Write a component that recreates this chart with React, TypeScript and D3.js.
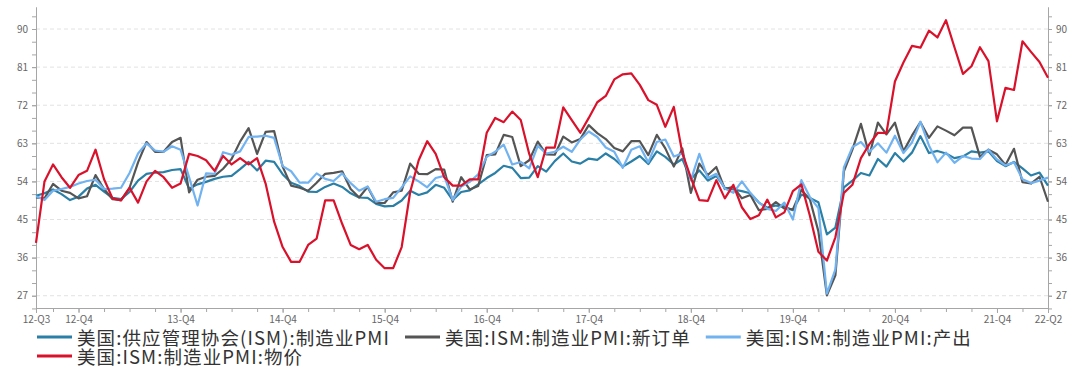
import React, { useEffect, useRef } from "react";
import * as d3 from "d3";

// monthly, 2012-07 .. 2022-06
const months = d3
  .timeMonth.range(new Date(2012, 6, 1), new Date(2022, 6, 1))
  .map(d3.timeFormat("%Y-%m"));

// 美国:供应管理协会(ISM):制造业PMI
const pmi = [
  50.6, 51.2, 52.1, 51.0, 49.6, 50.4,
  52.3, 53.2, 51.6, 50.1, 49.8, 51.5, 54.2, 55.8, 56.1, 56.2, 56.7, 56.9,
  52.3, 53.3, 53.9, 54.6, 55.1, 55.3, 56.9, 58.6, 56.6, 58.9, 58.6, 55.7,
  53.7, 52.9, 51.6, 51.5, 52.7, 53.5, 52.7, 51.2, 50.2, 50.1, 48.7, 48.1,
  48.2, 49.5, 51.8, 50.8, 51.4, 53.2, 52.5, 49.6, 51.5, 51.9, 53.3, 54.8,
  56.0, 57.7, 57.2, 54.8, 54.9, 57.6, 56.3, 58.8, 60.6, 58.7, 58.2, 59.4,
  59.1, 60.6, 59.3, 57.5, 58.7, 60.0, 58.1, 61.1, 59.8, 58.0, 59.3, 54.6,
  56.6, 54.2, 55.3, 52.5, 52.1, 51.7, 51.2, 49.0, 47.8, 48.3, 48.1, 47.2,
  50.9, 50.1, 49.1, 41.5, 43.1, 52.6, 54.2, 56.0, 55.4, 59.3, 57.5, 60.7,
  58.7, 60.8, 64.7, 60.7, 61.2, 60.6, 59.5, 59.9, 61.1, 60.8, 61.1, 58.8,
  57.6, 58.6, 57.1, 55.4, 56.1, 53.0,
];

// 美国:ISM:制造业PMI:新订单
const newOrders = [
  50.2, 50.0, 53.4, 51.8, 51.3, 50.0,
  50.5, 55.5, 52.2, 49.8, 49.6, 52.5, 58.5, 63.3, 61.0, 61.0, 63.3, 64.3,
  51.4, 54.4, 55.1, 55.3, 57.0, 59.3, 63.4, 66.6, 60.5, 65.7, 65.9, 57.5,
  53.0, 52.5, 51.8, 53.7, 55.8, 56.0, 56.4, 52.2, 50.2, 52.7, 48.9, 48.9,
  51.4, 51.8, 58.2, 55.8, 55.7, 56.9, 56.8, 49.2, 55.0, 52.1, 52.9, 60.2,
  60.4, 65.0, 64.5, 57.6, 59.0, 63.4, 60.4, 60.3, 64.6, 63.2, 64.0, 67.3,
  65.4, 64.0, 61.9, 61.1, 63.5, 63.5, 60.2, 65.0, 61.8, 57.5, 61.8, 51.3,
  58.2, 55.5, 57.4, 52.2, 52.7, 50.0, 50.8, 47.2, 47.5, 49.1, 47.6, 47.4,
  52.0, 49.8, 42.2, 27.1, 31.8, 56.4, 61.5, 67.6, 60.2, 67.9, 65.1, 67.9,
  61.1, 64.8, 68.0, 64.3, 67.0, 66.0, 64.9, 66.7, 66.7, 59.8, 61.5, 60.4,
  57.9, 61.7, 53.8, 53.5, 55.1, 49.2,
];

// 美国:ISM:制造业PMI:产出
const production = [
  50.5, 49.6, 51.8, 52.2, 52.7, 53.5,
  54.1, 54.4, 52.2, 52.3, 52.5, 56.0, 60.6, 63.0, 61.3, 61.0, 62.3, 61.5,
  55.0, 48.3, 55.9, 55.8, 60.9, 60.3, 61.1, 64.5, 64.6, 64.8, 64.3, 57.6,
  56.4, 53.7, 53.7, 55.9, 54.6, 54.1, 55.9, 53.6, 51.8, 52.8, 49.2, 49.8,
  50.1, 52.6, 55.2, 54.0, 52.6, 54.8, 55.3, 49.6, 52.8, 53.9, 55.7, 59.8,
  61.0, 62.7, 58.0, 58.6, 57.1, 62.4, 60.6, 61.0, 62.2, 61.0, 63.9, 65.8,
  64.5, 62.0, 61.0, 57.2, 61.5, 62.3, 58.5, 63.3, 63.9, 59.9, 60.6, 54.3,
  60.5, 54.8, 55.8, 52.3, 51.3, 54.0, 51.3, 49.0, 47.5, 47.0, 49.0, 45.0,
  54.3, 50.3, 47.7, 27.5, 33.2, 57.3, 62.1, 63.3, 61.0, 63.0, 60.8, 64.8,
  60.7, 63.2, 68.1, 62.5, 58.5, 60.8, 58.4, 60.0, 59.4, 59.3, 61.5, 59.2,
  57.8, 58.5, 54.5, 53.6, 54.2, 54.9,
];

// 美国:ISM:制造业PMI:物价
const prices = [
  39.5, 54.0, 58.0, 55.0, 52.5, 55.5,
  56.5, 61.5, 54.5, 50.0, 49.5, 52.5, 49.0, 54.0, 56.5, 55.0, 52.5, 53.5,
  60.5, 60.0, 59.0, 56.5, 60.0, 58.0, 59.5, 58.0, 59.5, 53.5, 44.5, 38.5,
  35.0, 35.0, 39.0, 40.5, 49.5, 49.5, 44.0, 39.0, 38.0, 39.0, 35.5, 33.5,
  33.5, 38.5, 51.5, 59.0, 63.5, 60.5, 55.0, 53.0, 53.0, 54.5, 54.5, 65.5,
  69.0, 68.0, 70.5, 68.5, 60.5, 55.0, 62.0, 62.0, 71.5, 68.5, 65.5, 69.0,
  72.7, 74.2, 78.1, 79.3, 79.5, 76.8, 73.2, 72.1, 66.9, 71.6, 60.7, 54.9,
  49.6, 49.4, 54.3, 50.0, 53.2, 47.9, 45.1, 46.0, 49.7, 45.5, 46.7, 51.7,
  53.3, 45.9, 37.4, 35.3, 40.8, 51.3, 53.2, 59.5, 62.8, 65.5, 65.4, 77.6,
  82.1, 86.0, 85.6, 89.6, 88.0, 92.1, 85.7, 79.4, 81.2, 85.7, 82.4, 68.2,
  76.1, 75.6, 87.1, 84.6, 82.2, 78.5,
];

const seriesNames = [
  "美国:供应管理协会(ISM):制造业PMI",
  "美国:ISM:制造业PMI:新订单",
  "美国:ISM:制造业PMI:产出",
  "美国:ISM:制造业PMI:物价",
];
const seriesColors = ["#2a7fa6", "#555555", "#71b2f0", "#d9112b"];

const yTicks = [27, 36, 45, 54, 63, 72, 81, 90];
const xTickMonths = [
  "2012-07", "2012-12", "2013-12", "2014-12", "2015-12", "2016-12",
  "2017-12", "2018-12", "2019-12", "2020-12", "2021-12", "2022-06",
];
const xTickLabels = [
  "12-Q3", "12-Q4", "13-Q4", "14-Q4", "15-Q4", "16-Q4",
  "17-Q4", "18-Q4", "19-Q4", "20-Q4", "21-Q4", "22-Q2",
];

const FONT = '"Noto Sans CJK SC", "Noto Sans", sans-serif';

const App: React.FC = () => {
  const svgRef = useRef<SVGSVGElement>(null);

  useEffect(() => {
    if (!svgRef.current) return;
    const width = 1080;
    const height = 366;
    const plot = { left: 36, right: 1048, top: 7, bottom: 308 };

    const x = d3
      .scaleLinear()
      .domain([0, months.length - 1])
      .range([plot.left, plot.right]);
    const y = d3
      .scaleLinear()
      .domain([24.1, 95.2])
      .range([plot.bottom, plot.top]);

    const svg = d3
      .select(svgRef.current)
      .attr("width", width)
      .attr("height", height);
    svg.selectAll("*").remove();

    // dashed grid
    svg
      .append("g")
      .selectAll("line")
      .data(yTicks)
      .join("line")
      .attr("x1", plot.left)
      .attr("x2", plot.right)
      .attr("y1", (d) => y(d))
      .attr("y2", (d) => y(d))
      .attr("stroke", "#e2e2e2")
      .attr("stroke-dasharray", "4,3");

    const minorY = d3.range(24, 96, 3).filter((v) => y(v) >= plot.top);

    const styleAxis = (g: d3.Selection<SVGGElement, unknown, null, undefined>) => {
      g.select(".domain").attr("stroke", "#a6a6a6");
      g.selectAll(".tick line").attr("stroke", "#a6a6a6");
      g.selectAll(".tick text")
        .attr("fill", "#666")
        .attr("font-size", 10)
        .attr("font-family", FONT);
    };

    // left axis
    svg
      .append("g")
      .attr("transform", `translate(${plot.left},0)`)
      .call(d3.axisLeft(y).tickValues(minorY).tickSize(4).tickSizeOuter(0).tickFormat(() => ""))
      .call(styleAxis);
    svg
      .append("g")
      .attr("transform", `translate(${plot.left},0)`)
      .call(d3.axisLeft(y).tickValues(yTicks).tickSize(4).tickPadding(4).tickSizeOuter(0).tickFormat(d3.format("d")))
      .call(styleAxis);

    // right axis
    svg
      .append("g")
      .attr("transform", `translate(${plot.right},0)`)
      .call(d3.axisRight(y).tickValues(minorY).tickSize(4).tickSizeOuter(0).tickFormat(() => ""))
      .call(styleAxis);
    svg
      .append("g")
      .attr("transform", `translate(${plot.right},0)`)
      .call(d3.axisRight(y).tickValues(yTicks).tickSize(4).tickPadding(4).tickSizeOuter(0).tickFormat(d3.format("d")))
      .call(styleAxis);

    // bottom axis
    const quarterEnds = months
      .map((m, i) => ({ m, i }))
      .filter((d) => ["03", "06", "09", "12"].includes(d.m.slice(5)))
      .map((d) => d.i);
    const majorIdx = xTickMonths.map((m) => months.indexOf(m));
    svg
      .append("g")
      .attr("transform", `translate(0,${plot.bottom})`)
      .call(d3.axisBottom(x).tickValues(quarterEnds).tickSize(4).tickSizeOuter(0).tickFormat(() => ""))
      .call(styleAxis);
    svg
      .append("g")
      .attr("transform", `translate(0,${plot.bottom})`)
      .call(
        d3
          .axisBottom(x)
          .tickValues(majorIdx)
          .tickSize(5)
          .tickPadding(3)
          .tickSizeOuter(0)
          .tickFormat((_, i) => xTickLabels[i])
      )
      .call(styleAxis);

    // lines
    const allSeries = [pmi, newOrders, production, prices];
    const line = d3
      .line<number>()
      .x((_, i) => x(i))
      .y((d) => y(d));
    allSeries.forEach((values, k) => {
      svg
        .append("path")
        .datum(values)
        .attr("fill", "none")
        .attr("stroke", seriesColors[k])
        .attr("stroke-width", 2.2)
        .attr("stroke-linejoin", "round")
        .attr("d", line);
    });

    // legend
    const legend = svg.append("g");
    let lx = 37;
    let ly = 337;
    seriesNames.forEach((name, k) => {
      const item = legend.append("g");
      item
        .append("line")
        .attr("x1", 0)
        .attr("x2", 35)
        .attr("stroke", seriesColors[k])
        .attr("stroke-width", 3);
      const text = item
        .append("text")
        .attr("x", 40)
        .attr("dominant-baseline", "central")
        .attr("font-size", 18.5)
        .attr("letter-spacing", 1.1)
        .attr("font-family", FONT)
        .attr("fill", "#333")
        .text(name);
      const w = 40 + (text.node()?.getComputedTextLength() || 0);
      if (lx + w > plot.right + 10) {
        lx = 37;
        ly += 19;
      }
      item.attr("transform", `translate(${lx},${ly})`);
      lx += w + 15;
    });
  }, []);

  return (
    <div style={{ position: "absolute", left: 0, top: 0 }}>
      <svg ref={svgRef} style={{ display: "block" }}></svg>
    </div>
  );
};

export default App;
